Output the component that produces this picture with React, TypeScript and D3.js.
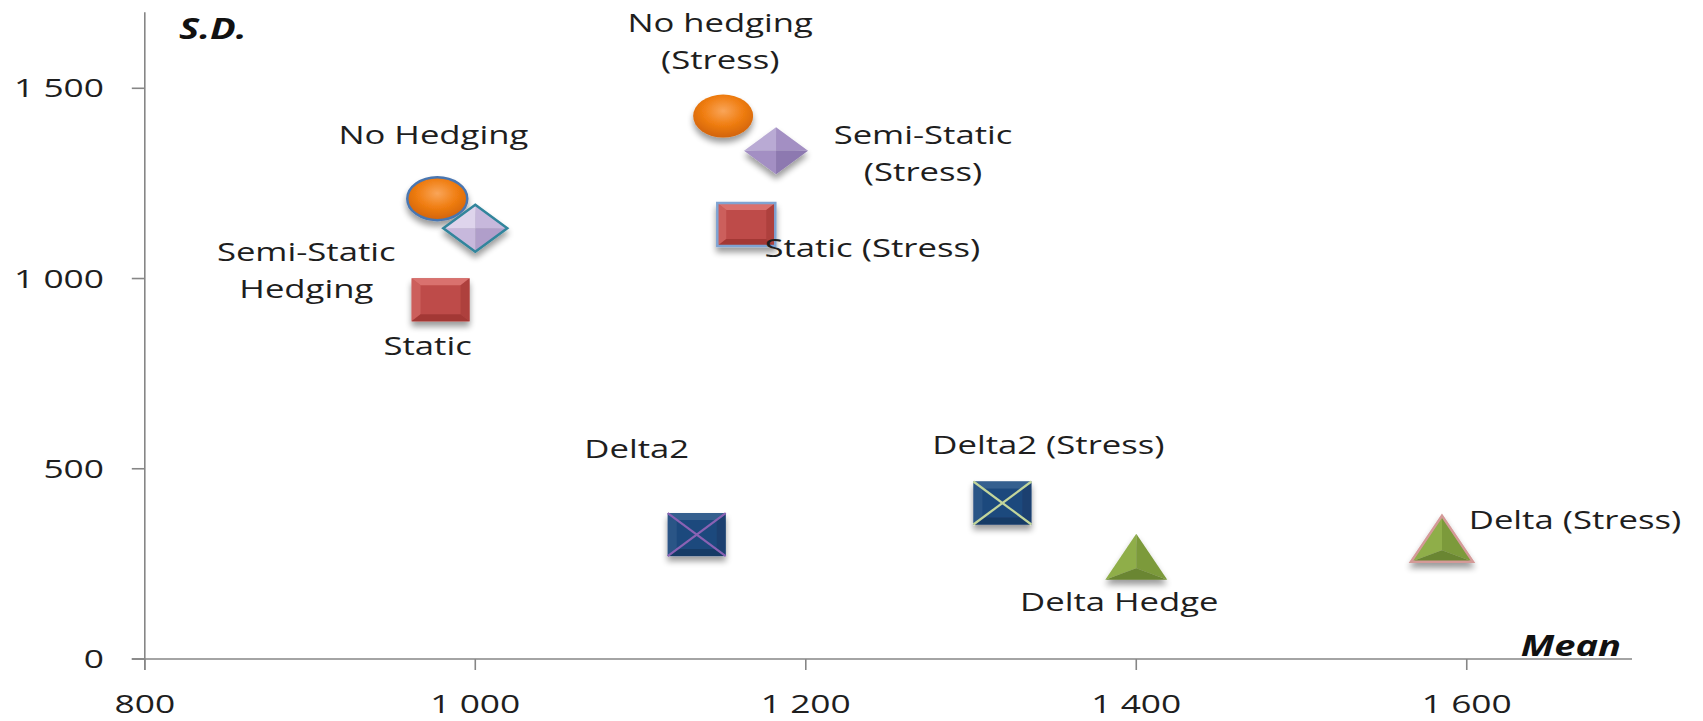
import React from "react";
import * as d3 from "d3";

// Hedging strategies: mean vs. standard deviation of the hedged P&L
const strategyLabels: string[][] = [
  ["No Hedging"],
  ["Semi-Static", "Hedging"],
  ["Static"],
  ["No hedging", "(Stress)"],
  ["Semi-Static", "(Stress)"],
  ["Static (Stress)"],
  ["Delta2"],
  ["Delta2 (Stress)"],
  ["Delta Hedge"],
  ["Delta (Stress)"],
];
const meanValues = [977, 1000, 979, 1150, 1182, 1164, 1134, 1319, 1400, 1585];
const sdValues = [1210, 1132, 944, 1427, 1336, 1142, 327, 410, 269, 316];

const xTickValues = [800, 1000, 1200, 1400, 1600];
const xTickLabels = ["800", "1 000", "1 200", "1 400", "1 600"];
const yTickValues = [0, 500, 1000, 1500];
const yTickLabels = ["0", "500", "1 000", "1 500"];
const xDomain: [number, number] = [800, 1700];
const yDomain: [number, number] = [0, 1700];
const xTitle = "Mean";
const yTitle = "S.D.";

// ---- presentation ----
const W = 1703;
const H = 721;
const SX = 1.36; // horizontal stretch applied to text
const FONT = "'Open Sans', 'Liberation Sans', sans-serif";
const AXIS = "#868686";
const INK = "#1e1e1e";

type Palette = { base: string; light: string; dark: string };
const ORANGE: Palette = { base: "#F07E12", light: "#F9A559", dark: "#D4650A" };
const LAVENDER: Palette = { base: "#C7B8DC", light: "#DED4EC", dark: "#B09ECA" };
const PURPLE: Palette = { base: "#A38FC3", light: "#B9AAD4", dark: "#8D79B0" };
const RED: Palette = { base: "#BE4B48", light: "#D9716E", dark: "#A33936" };
const NAVY: Palette = { base: "#1F497D", light: "#34608F", dark: "#173A66" };
const GREEN: Palette = { base: "#7C9A3B", light: "#8FAE4A", dark: "#6A8630" };

type Look = {
  shape: "ellipse" | "diamond" | "square" | "xsquare" | "triangle";
  pal: Palette;
  stroke?: string;
  cross?: string;
  dx: number; // label offset from the marker (px)
  dy: number; // baseline of the first label line relative to marker centre
};

const looks: Look[] = [
  { shape: "ellipse", pal: ORANGE, stroke: "#4A76B0", dx: -4, dy: -55 },
  { shape: "diamond", pal: LAVENDER, stroke: "#31859C", dx: -169, dy: 33 },
  { shape: "square", pal: RED, dx: -13, dy: 55 },
  { shape: "ellipse", pal: ORANGE, dx: -3, dy: -84 },
  { shape: "diamond", pal: PURPLE, dx: 147, dy: -7 },
  { shape: "square", pal: RED, stroke: "#7FA3D2", dx: 126, dy: 32 },
  { shape: "xsquare", pal: NAVY, cross: "#8A62B4", dx: -60, dy: -77 },
  { shape: "xsquare", pal: NAVY, cross: "#C3D69B", dx: 46, dy: -49 },
  { shape: "triangle", pal: GREEN, dx: -17, dy: 54 },
  { shape: "triangle", pal: GREEN, stroke: "#D49A98", dx: 133, dy: -10 },
];

const MW = 58; // marker width
const MH = 43; // marker height
const LINE_GAP = 37;

const poly = (pts: [number, number][]) => "M" + pts.map((p) => p.join(",")).join("L") + "Z";

function Marker({ look, idx }: { look: Look; idx: number }) {
  const { pal } = look;
  const w = MW / 2;
  const h = MH / 2;
  const sw = look.stroke ? 2.5 : 0;
  if (look.shape === "ellipse") {
    return (
      <g>
        <radialGradient id={`rg-${idx}`} cx="50%" cy="38%" r="60%">
          <stop offset="0%" stopColor={pal.light} />
          <stop offset="55%" stopColor={pal.base} />
          <stop offset="100%" stopColor={pal.dark} />
        </radialGradient>
        <ellipse rx={w + 1} ry={h} fill={`url(#rg-${idx})`} stroke={look.stroke || "none"} strokeWidth={sw} />
      </g>
    );
  }
  if (look.shape === "diamond") {
    const T: [number, number] = [0, -h - 2];
    const R: [number, number] = [w + 3, 0];
    const B: [number, number] = [0, h + 2];
    const L: [number, number] = [-w - 3, 0];
    const C: [number, number] = [0, 0];
    return (
      <g>
        <path d={poly([L, T, C])} fill={pal.light} />
        <path d={poly([T, R, C])} fill={pal.base} />
        <path d={poly([L, C, B])} fill={pal.base} />
        <path d={poly([C, R, B])} fill={pal.dark} />
        <path d={poly([T, R, B, L])} fill="none" stroke={look.stroke || "none"} strokeWidth={sw} strokeLinejoin="miter" />
      </g>
    );
  }
  if (look.shape === "triangle") {
    const tw = 31;
    const th = 23;
    const A: [number, number] = [0, -th];
    const BL: [number, number] = [-tw, th];
    const BR: [number, number] = [tw, th];
    const C: [number, number] = [0, th * 0.5];
    return (
      <g>
        <path d={poly([A, BL, C])} fill={pal.light} />
        <path d={poly([A, C, BR])} fill={pal.base} />
        <path d={poly([BL, BR, C])} fill={pal.dark} />
        <path d={poly([A, BR, BL])} fill="none" stroke={look.stroke || "none"} strokeWidth={sw} strokeLinejoin="miter" />
      </g>
    );
  }
  // square and crossed square: bevelled box
  const bx = 9;
  const by = 7;
  const x0 = -w;
  const y0 = -h;
  const x1 = w;
  const y1 = h;
  return (
    <g>
      <rect x={x0} y={y0} width={MW} height={MH} fill={pal.base} />
      <path d={poly([[x0, y0], [x1, y0], [x1 - bx, y0 + by], [x0 + bx, y0 + by]])} fill={pal.light} />
      <path d={poly([[x0, y0], [x0 + bx, y0 + by], [x0 + bx, y1 - by], [x0, y1]])} fill={pal.light} opacity={0.5} />
      <path d={poly([[x1, y0], [x1, y1], [x1 - bx, y1 - by], [x1 - bx, y0 + by]])} fill={pal.dark} opacity={0.6} />
      <path d={poly([[x0, y1], [x0 + bx, y1 - by], [x1 - bx, y1 - by], [x1, y1]])} fill={pal.dark} />
      {look.stroke && <rect x={x0} y={y0} width={MW} height={MH} fill="none" stroke={look.stroke} strokeWidth={sw} />}
      {look.cross && (
        <g stroke={look.cross} strokeWidth={2.2}>
          <line x1={x0} y1={y0} x2={x1} y2={y1} />
          <line x1={x1} y1={y0} x2={x0} y2={y1} />
        </g>
      )}
    </g>
  );
}

export default function App() {
  const x = d3.scaleLinear().domain(xDomain).range([144.8, 1632]);
  const y = d3.scaleLinear().domain(yDomain).range([659, 12.2]);
  const [xa, xb] = x.range();
  const [y0, yTop] = y.range();

  return (
    <svg
      width={W}
      height={H}
      viewBox={`0 0 ${W} ${H}`}
      style={{ position: "absolute", left: 0, top: 0, background: "#fff" }}
      fontFamily={FONT}
    >
      <defs>
        <filter id="shadow" x="-40%" y="-40%" width="180%" height="190%">
          <feGaussianBlur in="SourceAlpha" stdDeviation="3" />
          <feOffset dx="0" dy="5" result="blur" />
          <feComponentTransfer>
            <feFuncA type="linear" slope="0.4" />
          </feComponentTransfer>
          <feMerge>
            <feMergeNode />
            <feMergeNode in="SourceGraphic" />
          </feMerge>
        </filter>
      </defs>
      <rect width={W} height={H} fill="#fff" />

      {/* axes */}
      <g stroke={AXIS} strokeWidth={1.6} fill="none">
        <line x1={xa} y1={yTop} x2={xa} y2={y0 + 11} />
        <line x1={xa - 13} y1={y0} x2={xb} y2={y0} />
        {yTickValues.map((v) => (
          <line key={`yt${v}`} x1={xa - 13} x2={xa} y1={y(v)} y2={y(v)} />
        ))}
        {xTickValues.map((v) => (
          <line key={`xt${v}`} x1={x(v)} x2={x(v)} y1={y0} y2={y0 + 11} />
        ))}
      </g>
      <g fill={INK} fontSize={26}>
        {yTickValues.map((v, i) => (
          <text key={`yl${v}`} transform={`translate(104,${y(v) + 9}) scale(${SX},1)`} textAnchor="end">
            {yTickLabels[i]}
          </text>
        ))}
        {xTickValues.map((v, i) => (
          <text key={`xl${v}`} transform={`translate(${x(v)},713) scale(${SX},1)`} textAnchor="middle">
            {xTickLabels[i]}
          </text>
        ))}
      </g>
      <g fill="#111" fontSize={28} fontWeight="bold" fontStyle="italic">
        <text transform={`translate(179,38.5) scale(${SX},1)`} textAnchor="start">
          {yTitle}
        </text>
        <text transform={`translate(1621,656) scale(${SX},1)`} textAnchor="end">
          {xTitle}
        </text>
      </g>

      {/* markers */}
      {meanValues.map((m, i) => (
        <g key={`m${i}`} transform={`translate(${x(m)},${y(sdValues[i])})`} filter="url(#shadow)">
          <Marker look={looks[i]} idx={i} />
        </g>
      ))}

      {/* labels */}
      <g fill={INK} fontSize={25.5}>
        {meanValues.map((m, i) =>
          strategyLabels[i].map((t, j) => (
            <text
              key={`l${i}-${j}`}
              transform={`translate(${x(m) + looks[i].dx},${y(sdValues[i]) + looks[i].dy + j * LINE_GAP}) scale(${SX},1)`}
              textAnchor="middle"
            >
              {t}
            </text>
          ))
        )}
      </g>
    </svg>
  );
}
